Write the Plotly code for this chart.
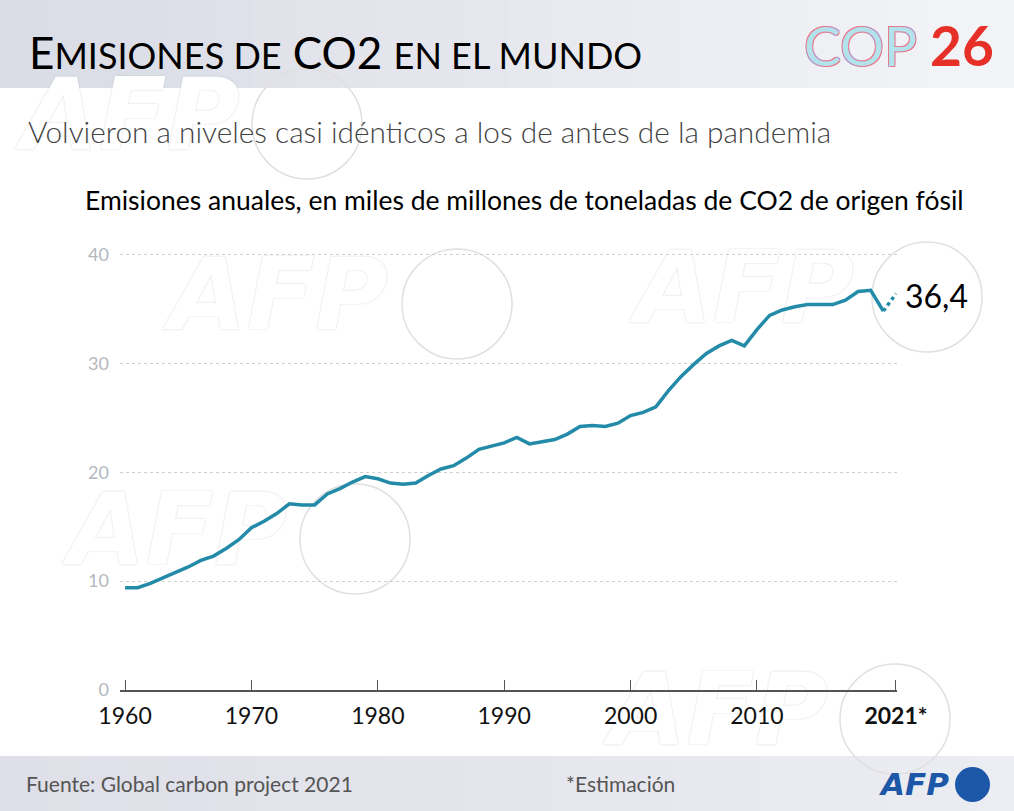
import plotly.graph_objects as go

## DATA (Global Carbon Project 2021, Gt CO2 fossil)
years = list(range(1960, 2021))
emissions = [9.4, 9.4, 9.8, 10.3, 10.8, 11.3, 11.9, 12.3, 13.0, 13.8,
             14.9, 15.5, 16.2, 17.1, 17.0, 17.0, 18.0, 18.5, 19.1, 19.6,
             19.4, 19.0, 18.9, 19.0, 19.7, 20.3, 20.6, 21.3, 22.1, 22.4,
             22.7, 23.2, 22.6, 22.8, 23.0, 23.5, 24.2, 24.3, 24.2, 24.5,
             25.2, 25.5, 26.0, 27.5, 28.8, 29.9, 30.9, 31.6, 32.1, 31.6,
             33.1, 34.4, 34.9, 35.2, 35.4, 35.4, 35.4, 35.8, 36.6, 36.7,
             34.8]
est_years = [2020, 2021]
est_values = [34.8, 36.4]
x_ticks = [1960, 1970, 1980, 1990, 2000, 2010, 2021]
x_labels = ['1960', '1970', '1980', '1990', '2000', '2010', '<b>2021*</b>']
y_ticks = [0, 10, 20, 30, 40]

## LAYOUT GEOMETRY (pixels)
W, H = 1014, 811
L, R, T, B = 120, 117, 249, 121   # data plot box inside the page
XR = [1959.6, 2021.08]
YR = [0, 40.5]

LINE = '#238ba8'
FONT = 'Lato'

fig = go.Figure()

## page-wide helper subplot (x, y in pixels) holds decorations under the data
wm_x = [21, 169, 635, 68, 609]
wm_y = [124, 304, 297, 539, 719]
fig.add_trace(go.Scatter(x=wm_x, y=wm_y, xaxis='x', yaxis='y',
                         mode='text', text=['AFP'] * 5, textposition='middle right',
                         cliponaxis=False, hoverinfo='skip',
                         textfont=dict(family='DejaVu Sans', size=100, color='white',
                                       weight=700, style='italic',
                                       shadow='0px 0px 1.5px rgba(0,0,0,0.22)')))

## data subplot
fig.add_trace(go.Scatter(x=years, y=emissions, xaxis='x2', yaxis='y2', mode='lines',
                         line=dict(color=LINE, width=3.5), hoverinfo='skip'))
fig.add_trace(go.Scatter(x=est_years, y=est_values, xaxis='x2', yaxis='y2', mode='lines',
                         line=dict(color=LINE, width=3.5, dash='dot'), hoverinfo='skip'))

shapes = []

## header and footer bands, faked gradient with strips
def band(y0, y1, c0, c1, n=24):
    for i in range(n):
        t = i / (n - 1)
        col = 'rgb(%d,%d,%d)' % tuple(round(a + (b - a) * t) for a, b in zip(c0, c1))
        shapes.append(dict(type='rect', xref='x', yref='y',
                           x0=i * W / n, x1=(i + 1) * W / n + 1,
                           y0=y0, y1=y1, line=dict(width=0),
                           fillcolor=col, layer='below'))

band(0, 88, (218, 220, 230), (243, 244, 247))
band(756, 811, (222, 223, 232), (236, 237, 242))

## watermark circles
for cx, cy in [(307, 124), (457, 304), (927, 297), (355, 539), (895, 719)]:
    r = 55
    shapes.append(dict(type='circle', xref='x', yref='y',
                       x0=cx - r, x1=cx + r, y0=cy - r, y1=cy + r,
                       line=dict(color='#e0e0e0', width=1.5), layer='below'))

## AFP logo dot
shapes.append(dict(type='circle', xref='x', yref='y',
                   x0=955, x1=990, y0=767, y1=802,
                   line=dict(width=0), fillcolor='#1d57a8'))

ann = []

def text(x, y, s, size, color='#000', anchor='left', weight=400, family=FONT, **kw):
    f = dict(family=family, size=size, color=color, weight=weight)
    f.update(kw)
    ann.append(dict(x=x, y=y, xref='x', yref='y', text=s,
                    showarrow=False, xanchor=anchor, yanchor='middle', font=f))

sc = "<span style='font-size:36px'>%s</span>"
text(27, 52, 'E' + sc % 'MISIONES DE' + ' CO2 ' + sc % 'EN EL MUNDO', 44)
text(802, 45, 'COP', 55, color='#b2e2ec',
     shadow='1px 1px 0px #e8798a, -1px -1px 0px #e8798a, 1px -1px 0px #b39ad4, -1px 1px 0px #b39ad4')
text(928, 45, '26', 55, color='#e63027', weight=700)
text(26, 131, 'Volvieron a niveles casi idénticos a los de antes de la pandemia', 29.8,
     color='#444', weight=300)
text(83, 200, 'Emisiones anuales, en miles de millones de toneladas de CO2 de origen fósil',
     26.5)
text(903, 295, '36,4', 32)
text(24, 783, 'Fuente: Global carbon project 2021', 21, color='#555')
text(620, 783, '*Estimación', 21, color='#555', anchor='center')
text(876, 784, 'AFP', 31, color='#1d57a8', weight=700, style='italic', family='DejaVu Sans')

fig.update_layout(
    width=W, height=H,
    margin=dict(l=0, r=0, t=0, b=0, autoexpand=False),
    paper_bgcolor='white', plot_bgcolor='rgba(0,0,0,0)',
    showlegend=False,
    shapes=shapes, annotations=ann,
    font=dict(family=FONT),
    xaxis=dict(domain=[0, 1], range=[0, W], visible=False, fixedrange=True,
               automargin=False),
    yaxis=dict(domain=[0, 1], range=[H, 0], visible=False, fixedrange=True,
               automargin=False),
    xaxis2=dict(domain=[L / W, (W - R) / W], anchor='y2', range=XR,
                tickvals=x_ticks, ticktext=x_labels, automargin=False,
                showgrid=False, zeroline=False, showline=True, linecolor='#555',
                linewidth=1.5, ticks='inside', ticklen=10, tickcolor='#555',
                tickwidth=1.2, tickfont=dict(size=23, color='#111'),
                ticklabelstandoff=5),
    yaxis2=dict(domain=[B / H, (H - T) / H], anchor='x2', range=YR,
                tickvals=y_ticks, showgrid=True, automargin=False,
                gridcolor='#cfcfcf', griddash='dot', gridwidth=1, zeroline=False,
                tickfont=dict(size=18, color='#b3b8be'), ticklabelstandoff=10),
)

fig.write_html('out.html', config={'displayModeBar': False},
               post_script="document.body.style.margin='0px';")
